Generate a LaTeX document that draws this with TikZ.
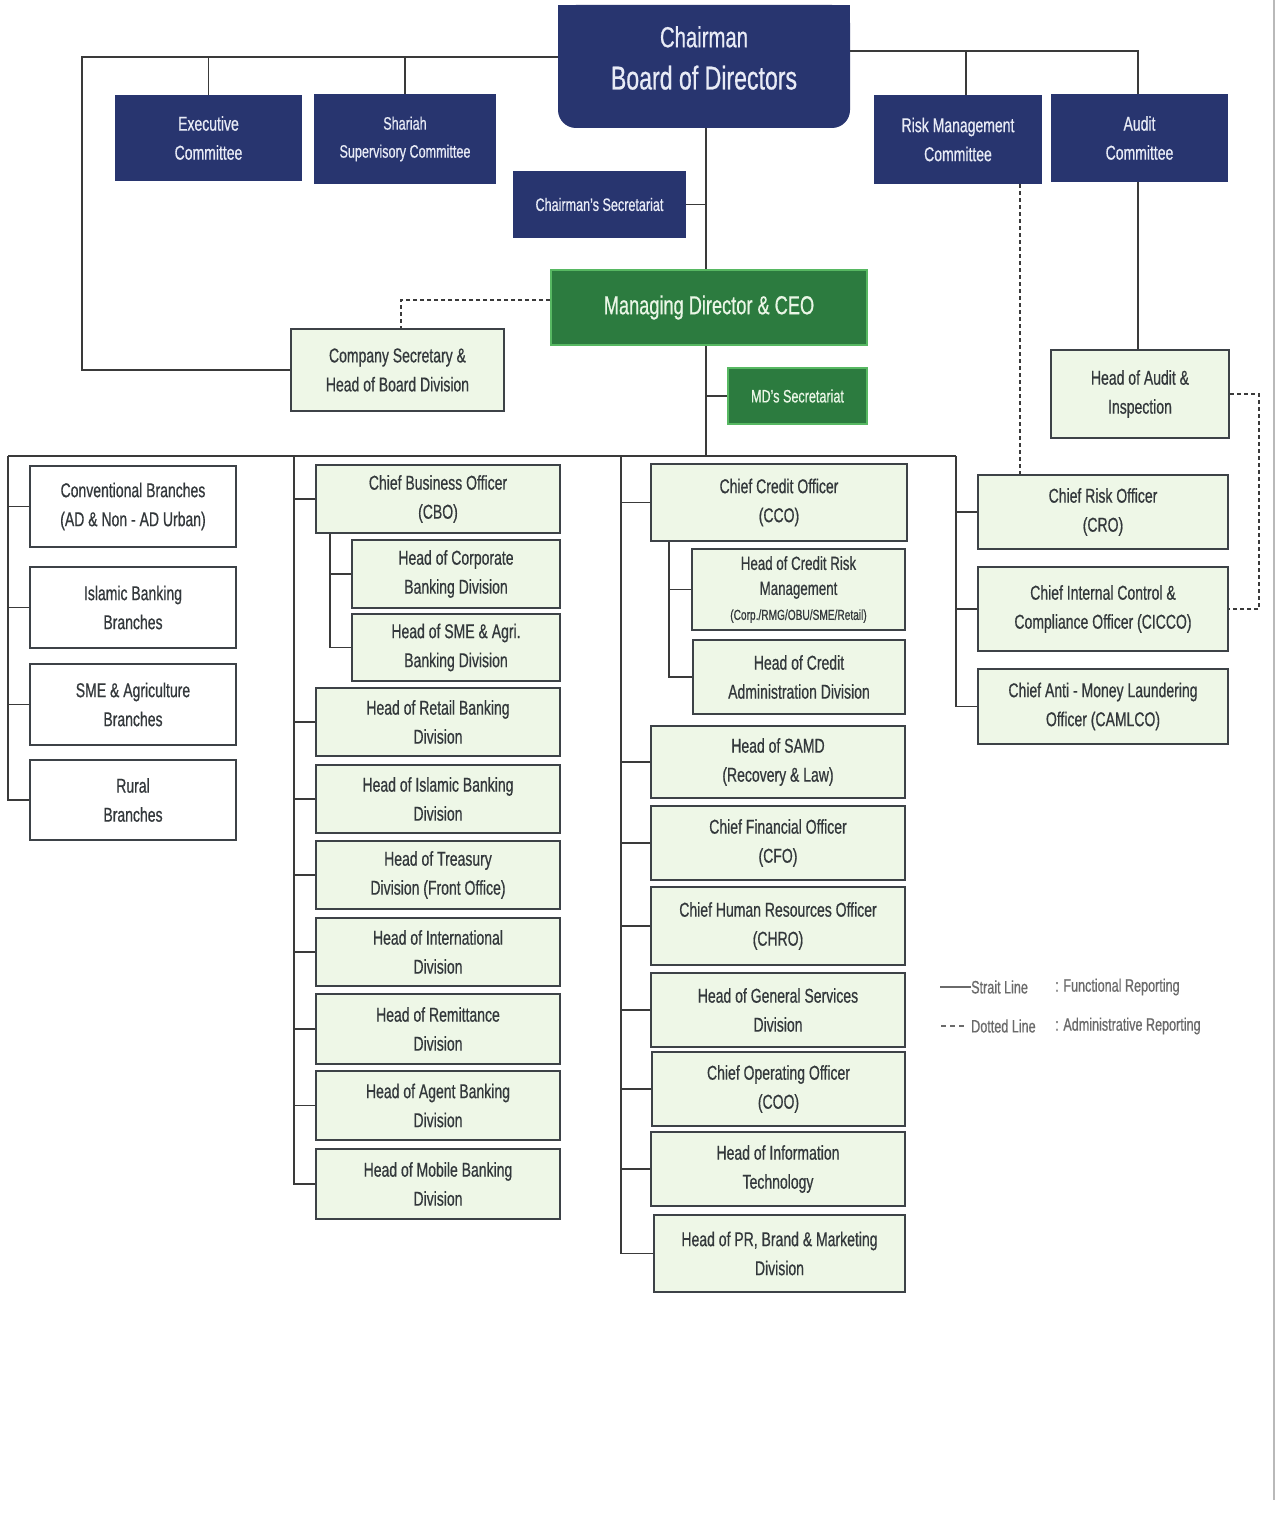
\documentclass[tikz,border=0pt]{standalone}
\usepackage{fontspec}
\setmainfont{Liberation Sans}[FakeStretch=0.7, FakeBold=0.6]
\definecolor{navyc}{HTML}{28356F}
\definecolor{navytxt}{HTML}{E8EBF6}
\definecolor{mdg}{HTML}{2C7B3F}
\definecolor{mdb}{HTML}{57B862}
\definecolor{mdtxt}{HTML}{EAF6E6}
\definecolor{lgreen}{HTML}{EEF7E7}
\definecolor{bord}{HTML}{3D4247}
\definecolor{txt}{HTML}{33383B}
\definecolor{linec}{HTML}{3A3A3A}
\definecolor{legc}{HTML}{6A6A6A}
\newcommand\bx[7]{\node[#6, minimum width={(#4)-(#2)}, minimum height={(#5)-(#3)}] (#1) at ({((#2)+(#4))/2},{((#3)+(#5))/2}) {#7};}
\begin{document}
\begin{tikzpicture}[x=1pt,y=-1pt,
  navy/.style={fill=navyc, text=navytxt, inner sep=1pt, align=center, font=\fontsize{20}{29}\selectfont},
  lbox/.style={fill=lgreen, draw=bord, line width=2pt, text=txt, inner sep=1pt, align=center, font=\fontsize{20}{29}\selectfont},
  wbox/.style={lbox, fill=white},
  mdbox/.style={fill=mdg, draw=mdb, line width=2pt, text=mdtxt, inner sep=1pt, align=center},
  ln/.style={draw=linec, line width=1.8pt},
  dsh/.style={draw=linec, line width=1.3pt, dash pattern=on 4pt off 3pt},
  leg/.style={text=legc, inner sep=0pt, anchor=west, font=\fontsize{18}{20}\selectfont}]
\useasboundingbox (0,0) rectangle (1277,1514);
\fill[white] (0,0) rectangle (1277,1514);
\draw[gray!55, line width=1.5pt] (1274,0) -- (1274,1500);

% Chairman
\fill[navyc, rounded corners=18pt] (558,5) rectangle (850,128);
\fill[navyc] (558,5) rectangle (850,60);
\bx{ch}{558}{5}{850}{128}{inner sep=0pt}{}
\node[text=navytxt, align=center, inner sep=0pt] (cht) at (704,58)
  {{\fontsize{29}{30}\selectfont Chairman}\\[17pt]{\fontsize{33}{34}\selectfont Board of Directors}};

% committees
\bx{ex}{115}{95}{302}{181}{navy}{Executive\\Committee}
\bx{sh}{314}{94}{496}{184}{navy, font=\fontsize{18}{28}\selectfont}{Shariah\\Supervisory Committee}
\bx{rm}{874}{95}{1042}{184}{navy}{Risk Management\\Committee}
\bx{ac}{1051}{94}{1228}{182}{navy}{Audit\\Committee}
\bx{csec}{513}{171}{686}{238}{navy, font=\fontsize{18}{22}\selectfont}{Chairman's Secretariat}

% MD
\bx{md}{551}{270}{867}{345}{mdbox, font=\fontsize{26}{30}\selectfont}{Managing Director \& CEO}
\bx{mds}{728}{368}{867}{424}{mdbox, font=\fontsize{18}{22}\selectfont}{MD's Secretariat}
\bx{cs}{291}{329}{504}{411}{lbox}{Company Secretary \&\\Head of Board Division}
\bx{ha}{1051}{350}{1229}{438}{lbox}{Head of Audit \&\\Inspection}

% column 1
\bx{cb}{30}{466}{236}{547}{wbox}{Conventional Branches\\(AD \& Non - AD Urban)}
\bx{ib}{30}{567}{236}{648}{wbox}{Islamic Banking\\Branches}
\bx{sa}{30}{664}{236}{745}{wbox}{SME \& Agriculture\\Branches}
\bx{rur}{30}{760}{236}{840}{wbox}{Rural\\Branches}

% column 2
\bx{cbo}{316}{465}{560}{533}{lbox}{Chief Business Officer\\(CBO)}
\bx{corp}{352}{540}{560}{608}{lbox}{Head of Corporate\\Banking Division}
\bx{sme}{352}{614}{560}{681}{lbox}{Head of SME \& Agri.\\Banking Division}
\bx{ret}{316}{688}{560}{756}{lbox}{Head of Retail Banking\\Division}
\bx{isl}{316}{765}{560}{833}{lbox}{Head of Islamic Banking\\Division}
\bx{tre}{316}{841}{560}{909}{lbox}{Head of Treasury\\Division (Front Office)}
\bx{intl}{316}{918}{560}{986}{lbox}{Head of International\\Division}
\bx{rem}{316}{994}{560}{1064}{lbox}{Head of Remittance\\Division}
\bx{agt}{316}{1071}{560}{1140}{lbox}{Head of Agent Banking\\Division}
\bx{mob}{316}{1149}{560}{1219}{lbox}{Head of Mobile Banking\\Division}

% column 3
\bx{cco}{651}{464}{907}{541}{lbox}{Chief Credit Officer\\(CCO)}
\bx{crm}{692}{549}{905}{630}{lbox, font=\fontsize{19}{25}\selectfont}{Head of Credit Risk\\Management\\{\fontsize{14.5}{16}\selectfont (Corp./RMG/OBU/SME/Retail)}}
\bx{cad}{693}{640}{905}{714}{lbox}{Head of Credit\\Administration Division}
\bx{samd}{651}{726}{905}{798}{lbox}{Head of SAMD\\(Recovery \& Law)}
\bx{cfo}{651}{806}{905}{880}{lbox}{Chief Financial Officer\\(CFO)}
\bx{chro}{651}{887}{905}{965}{lbox}{Chief Human Resources Officer\\(CHRO)}
\bx{gs}{651}{973}{905}{1047}{lbox}{Head of General Services\\Division}
\bx{coo}{652}{1052}{905}{1126}{lbox}{Chief Operating Officer\\(COO)}
\bx{it}{651}{1132}{905}{1206}{lbox}{Head of Information\\Technology}
\bx{pr}{654}{1215}{905}{1292}{lbox}{Head of PR, Brand \& Marketing\\Division}

% column 4
\bx{cro}{978}{475}{1228}{549}{lbox}{Chief Risk Officer\\(CRO)}
\bx{cicco}{978}{567}{1228}{651}{lbox}{Chief Internal Control \&\\Compliance Officer (CICCO)}
\bx{caml}{978}{669}{1228}{744}{lbox}{Chief Anti - Money Laundering\\Officer (CAMLCO)}

% coordinates
\coordinate (tl) at (82,57);
\coordinate (tr) at (1138,51);
\coordinate (rmb) at (966,51);
\coordinate (cx) at (706,0);
\coordinate (dy) at (401,300);
\coordinate (dr) at (1259,391);
\coordinate (rd) at (1020,0);
\coordinate (b1) at (8,456);
\coordinate (b2) at (294,456);
\coordinate (b3) at (621,456);
\coordinate (b4) at (956,456);
\coordinate (s2) at (330,0);
\coordinate (s3) at (669,0);

% top connectors
\draw[ln] (tl -| ch.west) -- (tl) |- (cs.west);
\draw[ln] (ex.north) -- (ex.north |- tl);
\draw[ln] (sh.north) -- (sh.north |- tl);
\draw[ln] (tr -| ch.east) -- (tr) -- (tr |- ac.north);
\draw[ln] (rmb) -- (rmb |- rm.north);
\draw[ln] (ch.south -| cx) -- (md.north -| cx);
\draw[ln] (csec.east) -- (csec.east -| cx);
\draw[ln] (md.south -| cx) -- (b1 -| cx);
\draw[ln] (mds.west) -- (mds.west -| cx);
\draw[ln] (ac.south -| tr) -- (ha.north -| tr);
\draw[dsh] (md.west |- dy) -- (dy) -- (dy |- cs.north);
\draw[dsh] (ha.east) -- (ha.east -| dr) |- (cicco.east);
\draw[dsh] (rm.south -| rd) -- (cro.north -| rd);

% bus
\draw[ln] (b1) -- (b4);
\draw[ln] (b1) |- (rur.west);
\foreach \n in {cb,ib,sa} \draw[ln] (\n.west) -- (\n.west -| b1);
\draw[ln] (b2) |- (mob.west);
\foreach \n in {cbo,ret,isl,tre,intl,rem,agt} \draw[ln] (\n.west) -- (\n.west -| b2);
\draw[ln] (cbo.south -| s2) |- (sme.west);
\draw[ln] (corp.west) -- (corp.west -| s2);
\draw[ln] (b3) |- (pr.west);
\foreach \n in {cco,samd,cfo,chro,gs,coo,it} \draw[ln] (\n.west) -- (\n.west -| b3);
\draw[ln] (cco.south -| s3) |- (cad.west);
\draw[ln] (crm.west) -- (crm.west -| s3);
\draw[ln] (b4) |- (caml.west);
\foreach \n in {cro,cicco} \draw[ln] (\n.west) -- (\n.west -| b4);

% legend
\coordinate (la) at (940,987);
\coordinate (lb) at (941,1026);
\coordinate (lbe) at (965,1026);
\node[leg] (l1) at (971,987) {Strait Line};
\node[leg] (l1b) at (1055,987) {: Functional Reporting};
\node[leg] (l2) at (971,1026) {Dotted Line};
\node[leg] (l2b) at (1055,1026) {: Administrative Reporting};
\draw[draw=legc, line width=1.5pt] (la) -- (l1.west);
\draw[draw=legc, line width=1.3pt, dash pattern=on 5pt off 4pt] (lb) -- (lbe);
\end{tikzpicture}
\end{document}
